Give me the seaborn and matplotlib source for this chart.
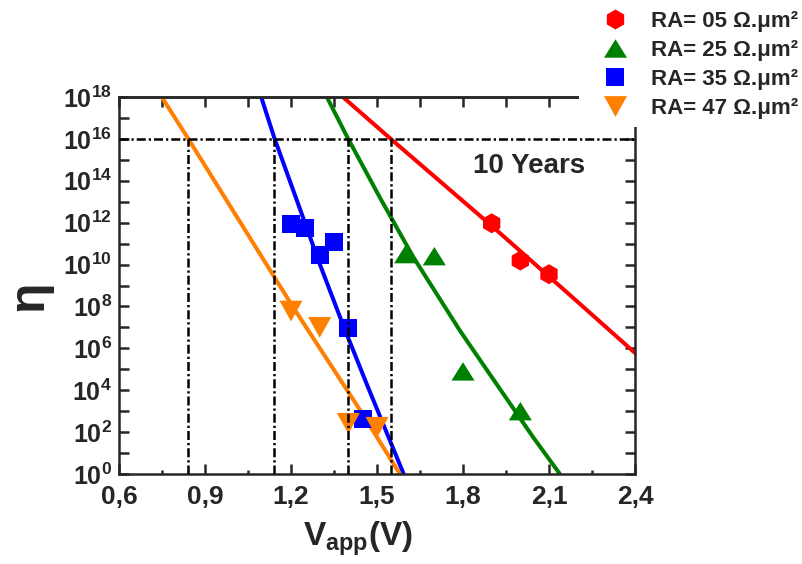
import numpy as np
import pandas as pd
import seaborn as sns
import matplotlib
matplotlib.use("Agg")
import matplotlib.pyplot as plt
from matplotlib.lines import Line2D
from matplotlib.patches import Rectangle
from matplotlib.path import Path
from matplotlib.ticker import FixedLocator, FixedFormatter, NullLocator

# ---- measured points: applied voltage (V) and log10 of eta ----
ra05_v = [1.90, 2.00, 2.10]
ra05_log_eta = [11.97, 10.19, 9.54]
ra25_v = [1.60, 1.70, 1.80, 2.00]
ra25_log_eta = [10.50, 10.40, 4.90, 3.00]
ra35_v = [1.20, 1.25, 1.30, 1.35, 1.40, 1.45]
ra35_log_eta = [11.94, 11.73, 10.46, 11.08, 6.96, 2.63]
ra47_v = [1.20, 1.30, 1.40, 1.50]
ra47_log_eta = [7.78, 7.00, 2.42, 2.23]

# ---- fitted curves (V, log10 eta) ----
fit05_v = [1.381, 1.548, 1.900, 2.208, 2.400]
fit05_log_eta = [18.0, 16.0, 11.85, 8.12, 5.78]
fit25_v = [1.325, 1.398, 1.510, 1.627, 1.789, 1.859, 2.045, 2.138]
fit25_log_eta = [18.0, 16.04, 13.2, 10.35, 6.85, 5.45, 1.75, 0.0]
fit35_v = [1.096, 1.142, 1.220, 1.301, 1.382, 1.464, 1.557, 1.593]
fit35_log_eta = [18.0, 16.04, 13.08, 10.0, 7.1, 4.3, 1.2, 0.0]
fit47_v = [0.749, 0.840, 1.208, 1.441, 1.580]
fit47_log_eta = [18.0, 16.04, 7.95, 3.05, 0.0]

# ---- ten-year criterion and where each fit reaches it ----
ten_year_log_eta = 16
ten_year_v = [0.840, 1.142, 1.398, 1.548]

series_labels = ["RA= 05 Ω.μm²", "RA= 25 Ω.μm²", "RA= 35 Ω.μm²", "RA= 47 Ω.μm²"]
series_colors = ["#FF0000", "#008000", "#0000FF", "#FF8000"]

x_ticks = [0.6, 0.9, 1.2, 1.5, 1.8, 2.1, 2.4]
x_tick_labels = ["0,6", "0,9", "1,2", "1,5", "1,8", "2,1", "2,4"]
x_minor_ticks = [0.75, 1.05, 1.35, 1.65, 1.95, 2.25]
y_exponents = list(range(0, 19))

# ---- style ----
sns.set_style("ticks")
plt.rcParams["font.family"] = ["Liberation Sans", "DejaVu Sans"]
plt.rcParams["font.weight"] = "bold"
plt.rcParams["mathtext.fontset"] = "custom"
plt.rcParams["mathtext.bf"] = "Liberation Sans:bold"
plt.rcParams["mathtext.rm"] = "Liberation Sans:bold"
plt.rcParams["mathtext.it"] = "Liberation Sans:bold"

# marker shapes
tri_up = Path([(-1, -0.8), (1, -0.8), (0, 0.8), (-1, -0.8)],
              [Path.MOVETO, Path.LINETO, Path.LINETO, Path.CLOSEPOLY])
tri_down = Path([(-1, 0.9), (1, 0.9), (0, -0.9), (-1, 0.9)],
                [Path.MOVETO, Path.LINETO, Path.LINETO, Path.CLOSEPOLY])
markers = ["h", tri_up, "s", tri_down]
marker_pts = [14.4, 16.6, 13.0, 16.6]

W, H = 803, 564
fig = plt.figure(figsize=(W / 100, H / 100), dpi=100)
ax = fig.add_axes([119 / W, (H - 474) / H, 516 / W, 377 / H])

points = [(ra05_v, ra05_log_eta), (ra25_v, ra25_log_eta),
          (ra35_v, ra35_log_eta), (ra47_v, ra47_log_eta)]
fits = [(fit05_v, fit05_log_eta), (fit25_v, fit25_log_eta),
        (fit35_v, fit35_log_eta), (fit47_v, fit47_log_eta)]

for (fv, fl), col in zip(fits, series_colors):
    df = pd.DataFrame({"V": fv, "eta": np.power(10.0, fl)})
    sns.lineplot(data=df, x="V", y="eta", color=col, lw=2.9, sort=False,
                 estimator=None, ax=ax, zorder=2)

for (pv, pl), col, mk, ms in zip(points, series_colors, markers, marker_pts):
    df = pd.DataFrame({"V": pv, "eta": np.power(10.0, pl)})
    sns.scatterplot(data=df, x="V", y="eta", color=col, marker=mk, s=ms ** 2,
                    edgecolor="none", linewidth=0, ax=ax, zorder=3)

# ten-year guide lines
dashdot = (0, (3.6, 1.2, 0.9, 1.2))
ax.axhline(10.0 ** ten_year_log_eta, color="black", lw=1.8, ls=dashdot, zorder=5)
for v in ten_year_v:
    ax.plot([v, v], [1.0, 10.0 ** ten_year_log_eta], color="black", lw=1.8,
            ls=dashdot, zorder=5)

ax.text(0.794, 0.799, "10 Years", transform=ax.transAxes, ha="center",
        va="baseline", fontsize=20, fontweight="bold")

# axes
ax.set_yscale("log")
ax.set_xlim(0.6, 2.4)
ax.set_ylim(1.0, 1e18)
ax.xaxis.set_major_locator(FixedLocator(x_ticks))
ax.xaxis.set_major_formatter(FixedFormatter(x_tick_labels))
ax.xaxis.set_minor_locator(FixedLocator(x_minor_ticks))
ax.yaxis.set_major_locator(FixedLocator([10.0 ** e for e in y_exponents]))
ax.yaxis.set_major_formatter(FixedFormatter(
    [r"$\mathbf{10^{%d}}$" % e if e % 2 == 0 else "" for e in y_exponents]))
ax.yaxis.set_minor_locator(NullLocator())

for s in ax.spines.values():
    s.set_linewidth(1.8)
ax.tick_params(axis="x", which="major", direction="in", length=7, width=1.8,
               top=False, labelsize=19, pad=8)
ax.tick_params(axis="x", which="minor", direction="in", length=3, width=1.8,
               top=False)
ax.tick_params(axis="y", which="major", direction="in", length=7, width=1.8,
               right=True, labelsize=18, pad=5)

top = ax.secondary_xaxis("top")
top.set_xticks(x_ticks[:-1] + x_minor_ticks + [2.4])
top.tick_params(direction="in", length=7, width=1.8, labeltop=False)
top.xaxis.set_major_formatter(FixedFormatter([""] * 13))
top.spines["top"].set_linewidth(1.8)

ax.set_xlabel(r"$\mathbf{V_{app}(V)}$", fontsize=24)
ax.xaxis.set_label_coords(0.463, -0.12)
ax.set_ylabel("η", fontsize=36, fontweight="bold")
ax.yaxis.set_label_coords(-0.13, 0.472)

# white block behind the legend, over the upper-right corner of the frame
fig.patches.append(Rectangle((579 / W, 1 - 127 / H), 1 - 579 / W, 127 / H,
                             transform=fig.transFigure, facecolor="white",
                             edgecolor="none", zorder=4))

handles = [Line2D([], [], color=c, marker=m, markersize=ms, linestyle="none",
                  markeredgewidth=0)
           for c, m, ms in zip(series_colors, markers, marker_pts)]
fig.legend(handles, series_labels, loc="upper left",
           bbox_to_anchor=(604 / W, 1 - 11 / H), frameon=False,
           handlelength=1.0, handletextpad=1.1, labelspacing=0.36,
           borderpad=0, borderaxespad=0, prop={"weight": "bold", "size": 16})

fig.savefig("out.png", dpi=100)
